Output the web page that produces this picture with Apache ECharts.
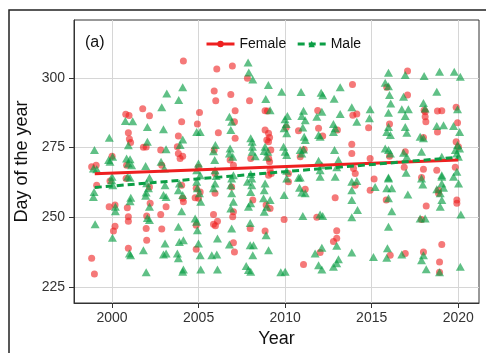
<!DOCTYPE html>
<html>
<head>
<meta charset="utf-8">
<script src="https://cdn.jsdelivr.net/npm/echarts@6/dist/echarts.min.js"></script>
<style>
  html, body { margin: 0; padding: 0; background: #fff; }
  #chart { width: 486px; height: 353px; }
</style>
</head>
<body>
<div id="chart"></div>
<script>
// [year (jittered), day of year]
const femalePts = [
  [1998.82,268.1],[1999.08,268.7],[1999.11,261.5],[1998.82,235.3],[1998.98,229.7],[1999.83,253.8],[1999.88,263],
  [2000,271.9],[2000.79,286.9],[2000.98,286.5],[2000.94,280.3],[2001,278.1],[2001.07,276.8],[2000.84,268.7],[2000.81,263.9],
  [2000.17,254.4],[2000.88,253.4],[2000.94,250.2],[2000.94,248.6],[2000.17,246.8],[2000.08,245.1],[2000.94,238.9],
  [2001.77,288.9],[2002.16,286.4],[2001.81,275.1],[2001.97,275.2],[2002.16,260.9],[2002.2,255],[2002,250.5],[2001.97,246],[2002,241.8],
  [2002.81,274.1],[2002.87,268.7],[2003.12,253.8],[2002.81,251],[2002.87,245.8],[2003.77,275.3],[2003.83,272.9],[2003.93,271.1],[2004.08,271.9],[2003.83,279.1],
  [2004.12,306],[2004.02,284.2],[2004.02,261.5],[2004.08,256.8],[2004.12,255.6],
  [2004.93,283.4],[2005.05,287.6],[2004.99,267.9],[2004.86,260.4],[2004.8,257],[2004.99,256.8],[2005.09,259.1],[2004.86,247.2],[2004.86,238.6],
  [2006.05,303.1],[2005.9,295.3],[2005.99,291.8],[2006.14,280.3],[2005.9,274.1],[2005.95,265.7],[2005.95,258.6],[2005.86,251],[2005.86,247.5],[2006.09,248.6],[2005.97,247],
  [2006.95,304.2],[2006.86,294],[2007.11,288.2],[2007.07,284.2],[2007.11,278.3],[2006.82,270.5],[2007.01,268.7],[2006.91,260.9],[2007.01,252],[2006.97,250.2],[2007.01,240.9],[2007.07,237.6],
  [2007.82,299.8],[2007.94,291.8],[2008.01,271.1],[2008.13,256.2],[2007.98,246],
  [2008.84,288.2],[2008.98,288.1],[2008.84,281.3],[2009.04,280.1],[2009.1,278.6],[2008.94,277.7],[2009.04,277.1],[2009.17,274.1],[2009.05,271.1],
  [2009.1,269.9],[2009.13,266.9],[2009.04,265.1],[2008.9,254.4],[2009.13,253.2],[2008.84,245.1],[2009.2,265.7],
  [2010.06,282.2],[2010.19,265.7],[2010.19,262.7],[2009.94,249.2],
  [2010.77,281],[2010.87,271.7],[2011.1,274.3],[2011.16,260.1],[2011.83,250],[2011.06,233.1],
  [2011.88,288.3],[2011.93,281.9],[2012.17,279.1],[2012.89,257],[2012.02,237.4],
  [2013.02,281.3],[2012.98,245.2],[2012.98,242.5],[2012.79,241.3],
  [2013.89,297.6],[2013.91,286.6],[2014.14,287],[2013.85,276.2],[2013.85,272.9],[2013.95,267.5],[2014.05,265.7],[2014.05,261.5],
  [2014.82,282.1],[2014.91,271.1],[2014.91,259.7],[2015.14,263.7],
  [2015.87,296.6],[2016.03,283.4],[2016.03,271.9],[2015.84,256.2],[2016.07,236.4],
  [2017.07,302.4],[2017.07,293.8],[2016.94,273.5],[2016.88,267.9],[2016.94,237],
  [2018.09,287.8],[2018.09,286],[2018.13,284.2],[2018.03,288.4],[2017.99,278.6],[2017.99,267.2],[2017.88,264.3],[2017.88,249.2],[2018.15,254.1],[2017.99,237.6],
  [2018.8,288.1],[2019.05,288.2],[2018.8,280.6],[2018.76,266.9],[2018.86,259.7],[2018.86,258.6],[2019.05,240.3],[2018.92,234],[2018.92,230.3],
  [2019.88,289.4],[2019.96,283.9],[2019.88,277.1],[2020.01,275.3],[2019.83,267.9],[2019.92,256.2],[2019.92,255]
];

const malePts = [
  [1998.98,274.1],[1998.92,267.5],[1999.11,267.2],[1998.96,259.1],[1998.92,257.3],[1999.02,247.5],[1999.84,278.5],
  [2000.03,271.7],[1999.8,270.5],[1999.88,269.9],[1999.98,263.3],[2000.04,261.5],[2000.19,253.8],[2000.19,252.2],[2000.02,242.7],[2000,264.5],
  [2000.77,284.5],[2001.19,284.4],[2000.94,275.8],[2000.84,271.1],[2001.04,270.8],[2000.94,269.3],[2001.13,268.7],[2001.04,264.2],
  [2001.08,257],[2001.04,255.8],[2001,237],[2001.07,236.4],[2000.9,264.5],
  [2002.04,282.4],[2002.04,277.1],[2001.94,268.4],[2002.16,264.2],[2002,262.2],[2002.1,260.4],[2001.94,257.7],[2001.97,258.9],
  [2002.16,253.8],[2002.04,249.8],[2002.16,249],[2001.81,238.2],[2001.97,230.3],
  [2003.16,294.4],[2002.87,289.4],[2002.97,281.6],[2003.12,274.4],[2002.83,269.9],[2003.02,267.5],[2003.06,261.5],[2002.97,258],
  [2003.12,257.3],[2003.06,240.6],[2002.97,236.7],[2003.12,237],
  [2004.08,296.6],[2003.85,292],[2004.08,277.9],[2003.93,275.9],[2003.89,262.1],[2003.83,259.7],[2004.08,258],[2004.02,252.2],
  [2003.83,246.6],[2003.89,241.2],[2004.12,241.8],[2003.77,237],[2003.83,235.3],[2004.12,231.3],[2004.08,230.5],
  [2004.89,280.6],[2005.09,280.6],[2004.99,269.3],[2004.89,266.9],[2005.09,265.1],[2004.89,262.7],[2004.93,260.4],[2005.05,258.6],
  [2005.12,255.6],[2004.8,249.6],[2004.89,248.4],[2004.93,245.4],[2004.99,240.6],[2005.09,236.4],[2005.12,231.3],
  [2005.97,275.9],[2005.86,273.7],[2005.93,270.5],[2005.95,266.9],[2006.01,264.8],[2005.86,260.4],[2005.95,262.1],[2006.09,242.4],
  [2005.76,236.4],[2006.05,236.7],[2006.09,231.3],
  [2006.78,286],[2006.91,284.2],[2006.86,281.3],[2006.82,274.7],[2006.78,272.9],[2006.97,271.7],[2007.01,265.1],[2006.91,263.9],
  [2006.86,261.5],[2006.91,258.6],[2007.01,255.6],[2006.86,253.2],[2006.91,246],[2006.78,240.3],
  [2007.86,305.5],[2007.9,301.9],[2008.13,299.4],[2008.01,278.3],[2008.09,277.1],[2008.11,275.3],[2008.09,273.5],[2008.27,271.9],
  [2008.01,265.5],[2008.07,263.9],[2007.82,262.7],[2008.07,261.5],[2008.01,259.1],[2007.88,253.8],[2008.01,255],[2007.98,248],
  [2008.17,240],[2007.98,240],[2008.13,236.4],[2007.75,232.6],[2007.88,231.1],[2008.01,230.5],
  [2008.88,292.4],[2009.13,288.4],[2009.03,297.4],[2008.84,275.3],[2008.79,273.8],[2009,273.5],[2008.94,271.7],[2008.84,262.1],
  [2008.79,259.7],[2008.75,256.8],[2008.94,253.8],[2009.13,256.2],[2008.79,252],[2008.9,243.6],[2009.04,238.2],
  [2009.8,295],[2010.13,286.3],[2009.99,285.1],[2010.06,283.4],[2009.94,281.9],[2010.09,280.1],[2009.91,275.3],[2010,273.5],
  [2010.09,272.3],[2010.09,266.7],[2010.09,263.9],[2009.94,258],[2009.75,230.3],[2010,230.5],
  [2010.92,294.9],[2011.06,288.2],[2010.96,286.3],[2011.16,284.8],[2011.02,282.2],[2011.1,278.9],[2011.16,277.7],[2010.87,274.1],
  [2011.06,274.3],[2010.96,272.9],[2010.87,264.3],[2010.77,264.2],[2010.96,258.9],[2010.83,260.6],[2011.16,258.6],[2011.02,250.5],
  [2012.08,294.6],[2012.17,293.7],[2012.12,287.8],[2011.83,286],[2011.93,279.5],[2012.02,278.9],[2011.93,270.3],[2012.12,268.7],
  [2012.02,266.9],[2012.02,264.5],[2012.02,251],[2012.17,250.5],[2012.12,239.1],[2011.73,237],[2011.93,232.8],[2012.12,231.3],
  [2012.83,292.5],[2013.18,296.6],[2013.18,287],[2012.79,283.4],[2012.89,281.9],[2012.79,280.6],[2012.85,274.1],[2013.08,270.5],
  [2012.98,267.9],[2012.89,264.5],[2012.98,239.8],[2013.08,235],[2012.98,233.5],[2012.79,232.3],
  [2013.85,289.4],[2014.14,284.2],[2013.85,262.7],[2014.14,263],[2013.85,259.7],[2013.85,256.2],[2014.18,252.6],[2013.85,250],
  [2013.85,237.4],[2014.91,288.7],[2014.87,285.5],
  [2015.1,235.8],[2015.2,260.9],
  [2015.97,301.8],[2015.78,298.2],[2015.97,297],[2016.03,293.8],[2016.1,290.8],[2015.97,287.5],[2015.87,280.6],[2015.97,282.4],
  [2016.08,279.5],[2015.78,274.7],[2015.97,274.1],[2016.08,272.9],[2015.97,264.3],[2015.97,263.9],[2015.87,260.4],[2016.16,260.4],
  [2015.97,256.8],[2016.16,252.2],[2015.97,246.6],[2015.91,238.9],[2015.87,235.5],
  [2016.94,301],[2016.84,293.2],[2016.74,288.7],[2017.12,288.7],[2016.94,286.3],[2016.94,282.4],[2017.03,280.3],[2016.84,273.1],
  [2017.03,271.7],[2016.99,266],[2017.09,258.2],[2016.74,236.7],
  [2018.03,300.6],[2017.99,291],[2018.09,289],[2017.8,278.9],[2017.99,278.3],[2017.88,273.5],[2017.88,263.9],[2017.95,261.8],
  [2017.8,249.6],[2018.09,249.6],[2017.99,236.4],[2017.88,234.6],[2018.15,231.4],
  [2018.92,302.2],[2018.76,295],[2018.76,282.7],[2019.15,283],[2019.05,271.7],[2019.05,265.1],[2019.05,264.5],[2019.05,262.1],
  [2019.15,260.6],[2018.96,258.6],[2019.05,256.2],[2018.96,253.8],[2018.76,260.1],[2018.92,230.3],
  [2019.77,302.2],[2020.12,300.4],[2019.96,288.7],[2019.73,282.7],[2020.08,280.6],[2019.96,275.9],[2020.08,274.7],[2019.83,274.1],
  [2019.92,272.9],[2020.01,271.7],[2019.92,266.3],[2019.73,264.5],[2020.02,262.1],[2020.15,251],[2020.12,232.3]
];

// fitted trend lines (end points)
const femaleTrend = [[1999, 265.6], [2020, 270.5]];
const maleTrend = [[1999, 260.7], [2020, 271.5]];

const xTicks = [2000, 2005, 2010, 2015, 2020];
const yTicks = [225, 250, 275, 300];

const RED = '#ee2020';
const GREEN = '#0b9e45';
const font = 'Liberation Sans, Arial, sans-serif';

const chart = echarts.init(document.getElementById('chart'));
chart.setOption({
  animation: false,
  backgroundColor: '#fff',
  textStyle: { fontFamily: font },
  grid: {
    left: 74, right: 7, top: 20, bottom: 50,
    show: true, borderColor: '#333', borderWidth: 1, backgroundColor: '#fff'
  },
  graphic: [
    { type: 'rect', shape: { x: 9, y: 10, width: 520, height: 400 },
      style: { fill: 'none', stroke: '#222', lineWidth: 1.5 }, silent: true },
    { type: 'text', left: 85, top: 35,
      style: { text: '(a)', fontSize: 16, fontFamily: font, fill: '#111' } }
  ],
  legend: {
    data: ['Female', 'Male'],
    left: 200, top: 32,
    itemWidth: 28, itemHeight: 8, itemGap: 10,
    lineStyle: { width: 3 },
    textStyle: { fontSize: 14, color: '#111', fontFamily: font }
  },
  xAxis: {
    type: 'value', min: 1997.8, max: 2021.2,
    name: 'Year', nameLocation: 'middle', nameGap: 25,
    nameTextStyle: { fontSize: 18, color: '#111', fontFamily: font },
    axisLine: { lineStyle: { color: '#333', width: 1 } },
    axisTick: { show: true, length: 5, customValues: xTicks, lineStyle: { color: '#333' } },
    axisLabel: { customValues: xTicks, fontSize: 14, color: '#333', margin: 8, formatter: v => String(v) },
    splitLine: { show: true, lineStyle: { color: '#d6d6d6', width: 1 } }
  },
  yAxis: {
    type: 'value', min: 219.3, max: 320.7,
    name: 'Day of the year', nameLocation: 'middle', nameGap: 37,
    nameTextStyle: { fontSize: 18, color: '#111', fontFamily: font },
    axisLine: { show: true, lineStyle: { color: '#333', width: 1 } },
    axisTick: { show: true, length: 5, customValues: yTicks, lineStyle: { color: '#333' } },
    axisLabel: { customValues: yTicks, fontSize: 14, color: '#333', margin: 9 },
    splitLine: { show: true, lineStyle: { color: '#d6d6d6', width: 1 } }
  },
  series: [
    {
      name: 'Female', type: 'line', data: femaleTrend, z: 5,
      symbol: 'circle', showSymbol: false,
      lineStyle: { color: RED, width: 3 }, itemStyle: { color: RED }
    },
    {
      name: 'Male', type: 'line', data: maleTrend, z: 5,
      symbol: 'triangle', showSymbol: false,
      lineStyle: { color: GREEN, width: 3, type: [7, 4] }, itemStyle: { color: GREEN }
    },
    {
      name: 'Female', type: 'scatter', data: femalePts, z: 2,
      symbol: 'circle', symbolSize: 7,
      itemStyle: { color: RED, opacity: 0.6 }
    },
    {
      name: 'Male', type: 'scatter', data: malePts, z: 3,
      symbol: 'triangle', symbolSize: [9, 8],
      itemStyle: { color: GREEN, opacity: 0.65 }
    }
  ]
});
</script>
</body>
</html>
